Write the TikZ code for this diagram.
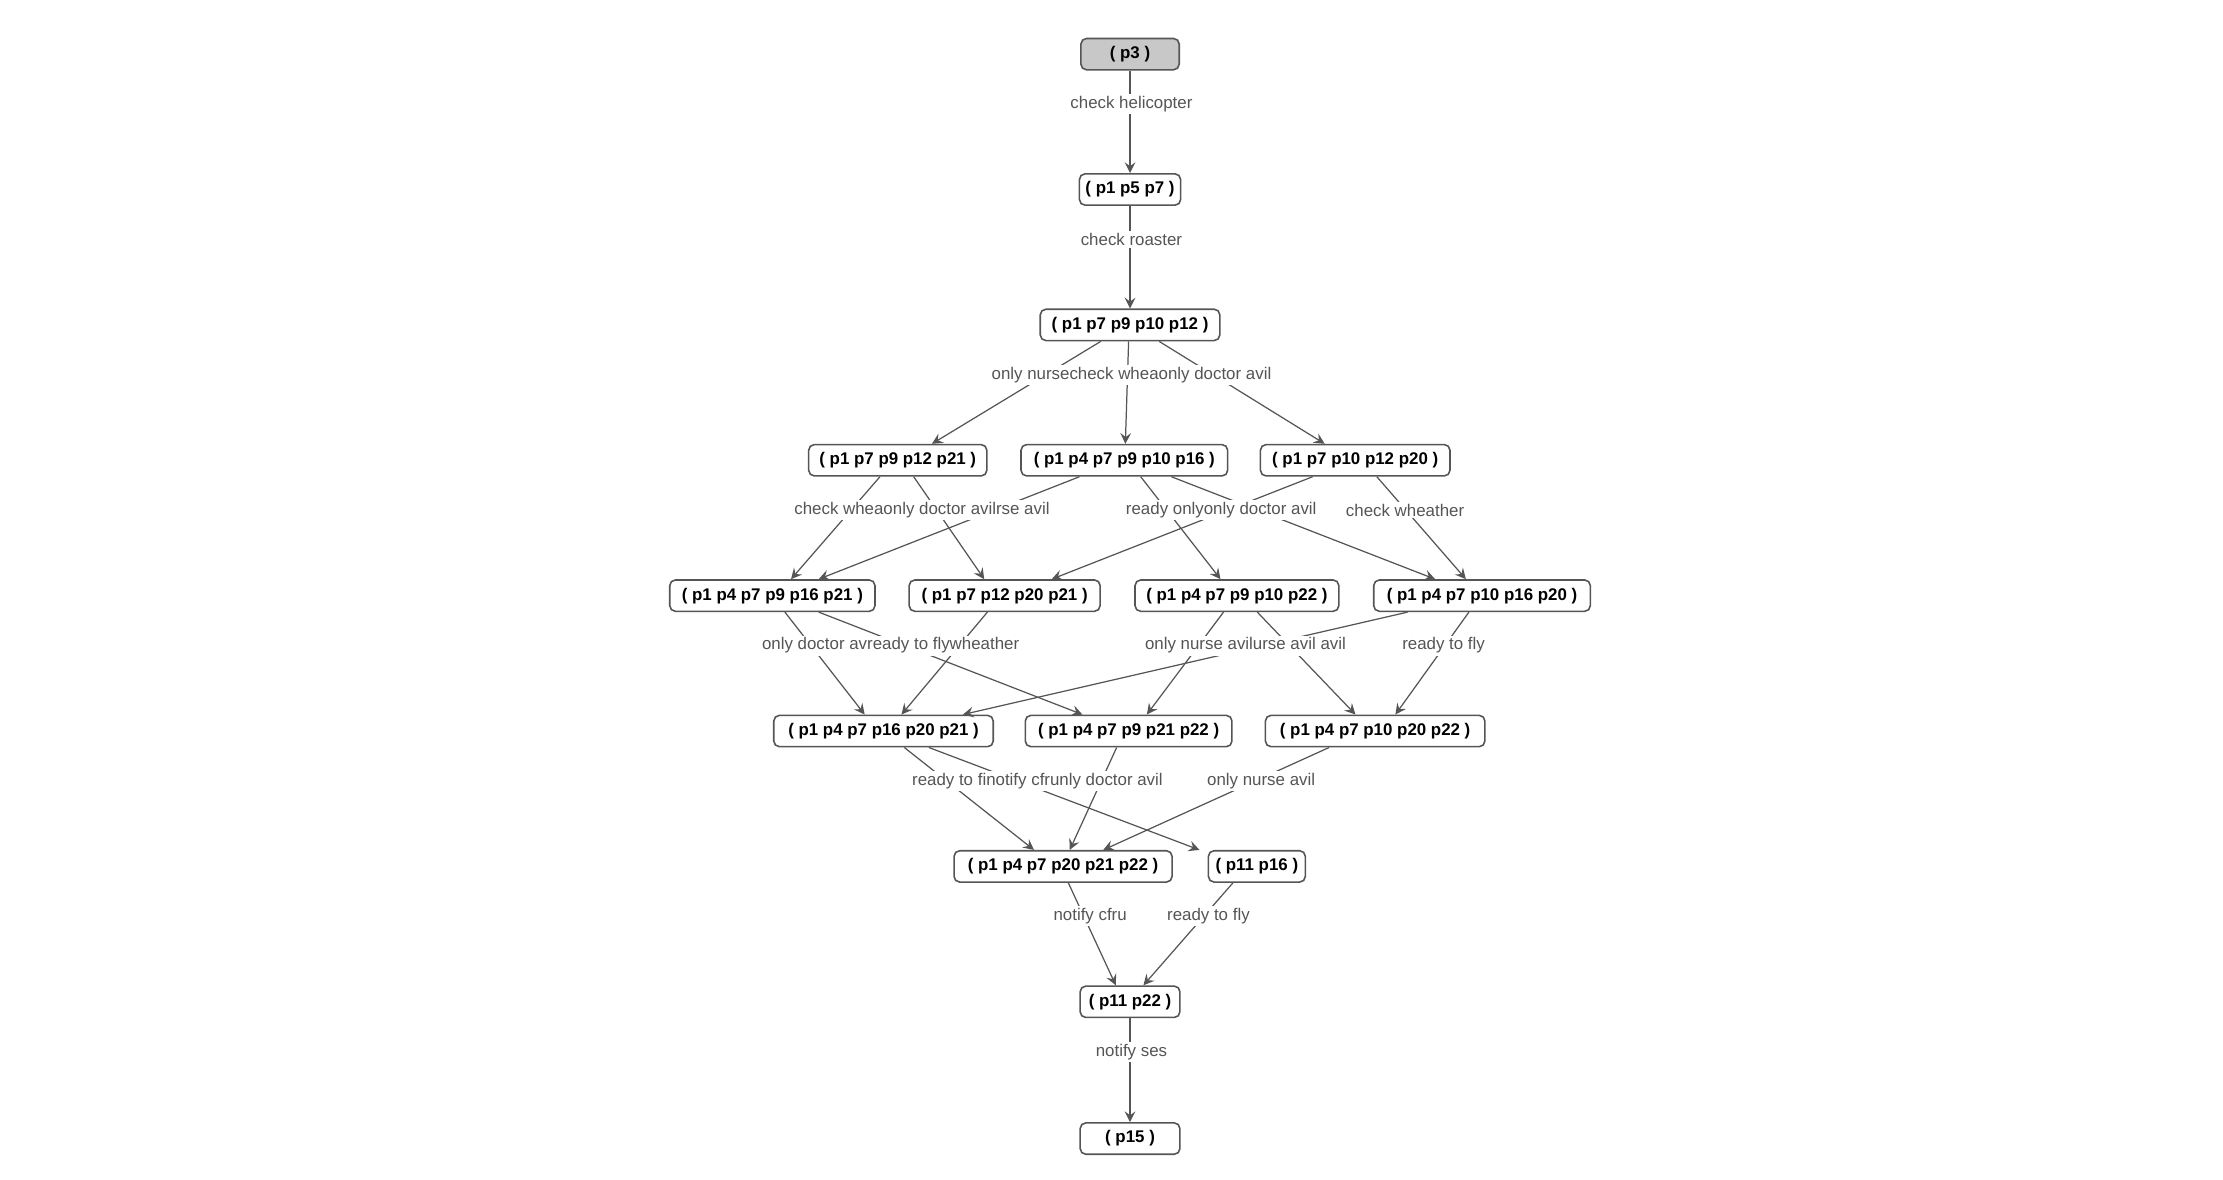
\documentclass[tikz,border=0pt]{standalone}
\usepackage{fontspec}
\setmainfont{Liberation Sans}
\definecolor{ln}{HTML}{555555}
\definecolor{gf}{HTML}{C8C8C8}
\begin{document}
\def\U{0.4051pt}
\begin{tikzpicture}[x=0.4051pt,y=-0.4051pt,
  st/.style={draw=ln,rounded corners=1.6pt,minimum height=22*\U,inner sep=0pt,font=\fontsize{4.8pt}{5pt}\selectfont\bfseries,line width=0.45pt},
  lab/.style={fill=white,inner sep=0.6pt,text=ln,font=\fontsize{4.8pt}{5pt}\selectfont},
  e/.style={draw=ln,line width=0.35pt,-stealth}]
\useasboundingbox (0,0) rectangle (1560,828);
\node[st,fill=gf,minimum width=69*\U] (p3) at (793,38) {( p3 )};
\node[st,minimum width=71*\U] (q) at (793,133) {( p1 p5 p7 )};
\node[st,minimum width=126*\U] (X) at (793,228) {( p1 p7 p9 p10 p12 )};
\node[st,minimum width=125*\U] (A) at (630,323) {( p1 p7 p9 p12 p21 )};
\node[st,minimum width=145*\U] (B) at (789,323) {( p1 p4 p7 p9 p10 p16 )};
\node[st,minimum width=133*\U] (C) at (951,323) {( p1 p7 p10 p12 p20 )};
\node[st,minimum width=144*\U] (D) at (542,418) {( p1 p4 p7 p9 p16 p21 )};
\node[st,minimum width=134*\U] (E) at (705,418) {( p1 p7 p12 p20 p21 )};
\node[st,minimum width=143*\U] (F) at (868,418) {( p1 p4 p7 p9 p10 p22 )};
\node[st,minimum width=152*\U] (G) at (1040,418) {( p1 p4 p7 p10 p16 p20 )};
\node[st,minimum width=154*\U] (H) at (620,513) {( p1 p4 p7 p16 p20 p21 )};
\node[st,minimum width=145*\U] (I) at (792,513) {( p1 p4 p7 p9 p21 p22 )};
\node[st,minimum width=154*\U] (J) at (965,513) {( p1 p4 p7 p10 p20 p22 )};
\node[st,minimum width=153*\U] (K) at (746,608) {( p1 p4 p7 p20 p21 p22 )};
\node[st,minimum width=68*\U] (L) at (882,608) {( p11 p16 )};
\node[st,minimum width=70*\U] (M) at (793,703) {( p11 p22 )};
\node[st,minimum width=70*\U] (N) at (793,799) {( p15 )};
% edges
\draw[e] (p3) -- (q);
\draw[e] (q) -- (X);
\draw[e] ([xshift=-20.5*\U]X.south) -- ([xshift=24*\U]A.north);
\draw[e] ([xshift=-1*\U]X.south) -- ([xshift=0.7*\U]B.north);
\draw[e] ([xshift=20.4*\U]X.south) -- ([xshift=-21.4*\U]C.north);
\draw[e] ([xshift=-12.5*\U]A.south) -- ([xshift=13.1*\U]D.north);
\draw[e] ([xshift=11.2*\U]A.south) -- ([xshift=-14.3*\U]E.north);
\draw[e] ([xshift=-31.5*\U]B.south) -- ([xshift=32.5*\U]D.north);
\draw[e] ([xshift=11.5*\U]B.south) -- ([xshift=-11.5*\U]F.north);
\draw[e] ([xshift=33*\U]B.south) -- ([xshift=-32.9*\U]G.north);
\draw[e] ([xshift=-29.9*\U]C.south) -- ([xshift=33*\U]E.north);
\draw[e] ([xshift=15.2*\U]C.south) -- ([xshift=-11.3*\U]G.north);
\draw[e] ([xshift=8.8*\U]D.south) -- ([xshift=-13.2*\U]H.north);
\draw[e] ([xshift=32.5*\U]D.south) -- ([xshift=-32.4*\U]I.north);
\draw[e] ([xshift=-12.1*\U]E.south) -- ([xshift=12.6*\U]H.north);
\draw[e] ([xshift=-9.4*\U]F.south) -- ([xshift=12.8*\U]I.north);
\draw[e] ([xshift=14.3*\U]F.south) -- ([xshift=-13.8*\U]J.north);
\draw[e] ([xshift=-52.2*\U]G.south) -- ([xshift=55.7*\U]H.north);
\draw[e] ([xshift=-9.2*\U]G.south) -- ([xshift=14.2*\U]J.north);
\draw[e] ([xshift=14.6*\U]H.south) -- ([xshift=-20.4*\U]K.north);
\draw[e] ([xshift=31.8*\U]H.south) -- ([xshift=-40.3*\U]L.north);
\draw[e] ([xshift=-8.4*\U]I.south) -- ([xshift=4.7*\U]K.north);
\draw[e] ([xshift=-32.3*\U]J.south) -- ([xshift=28.2*\U]K.north);
\draw[e] ([xshift=3.7*\U]K.south) -- ([xshift=-10*\U]M.north);
\draw[e] ([xshift=-16.8*\U]L.south) -- ([xshift=9.4*\U]M.north);
\draw[e] (M) -- (N);
% labels
\node[lab] (l1) at (794,73) {check helicopter};
\node[lab] (l2) at (794,168) {check roaster};
\node[lab] (l3) at (794,263) {only nursecheck wheaonly doctor avil};
\node[lab] (l4) at (647,358) {check wheaonly doctor avilrse avil};
\node[lab] (l5) at (857,358) {ready onlyonly doctor avil};
\node[lab] (l6) at (986,358) {check wheather};
\node[lab] (l7) at (625,453) {only doctor avready to flywheather};
\node[lab] (l8) at (874,453) {only nurse avilurse avil avil};
\node[lab] (l9) at (1013,453) {ready to fly};
\node[lab] (l10) at (728,548) {ready to finotify cfrunly doctor avil};
\node[lab] (l11) at (885,548) {only nurse avil};
\node[lab] (l12) at (765,643) {notify cfru};
\node[lab] (l13) at (848,643) {ready to fly};
\node[lab] (l14) at (794,738) {notify ses};
\end{tikzpicture}
\end{document}
